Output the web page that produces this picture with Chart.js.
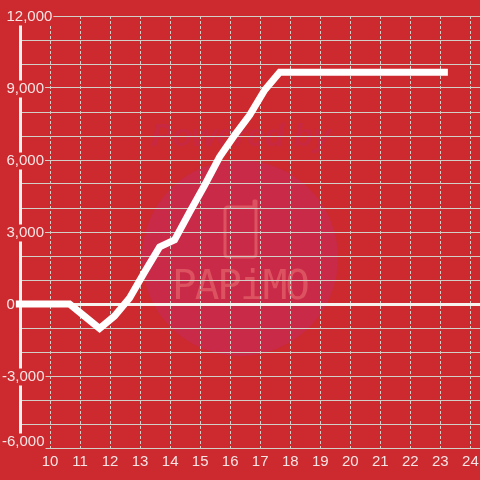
<!DOCTYPE html>
<html>
<head>
<meta charset="utf-8">
<style>
  html, body { margin: 0; padding: 0; background: #cc2a2e; }
  canvas { display: block; }
</style>
<script src="https://cdn.jsdelivr.net/npm/chart.js@4"></script>
</head>
<body>
<canvas id="myChart" width="480" height="480"></canvas>
<script>
// -------- Data --------
const hours = [8.65, 9.15, 9.65, 10.15, 10.65, 11.15, 11.65, 12.15, 12.65, 13.15, 13.65, 14.15, 14.65,
  15.15, 15.65, 16.15, 16.65, 17.15, 17.65, 18.65, 19.65, 20.65, 21.65, 22.65, 23.25];
const balance = [0, 0, 0, 0, 0, -510, -1020, -500, 250, 1330, 2380, 2670, 3830,
  4950, 6130, 7040, 7875, 8920, 9660, 9660, 9660, 9660, 9660, 9660, 9660];
const yLabelled = [12000, 9000, 6000, 3000, 0, -3000, -6000];

const RED = '#cc2a2e';
const TEXT = '#f6e4e4';
const GRID = '#d2cfc9';

// -------- Watermark behind the plot --------
const watermark = {
  id: 'watermark',
  beforeDraw(chart) {
    const c = chart.ctx;
    c.save();
    c.fillStyle = RED;
    c.fillRect(0, 0, chart.width, chart.height);

    c.fillStyle = '#c82a48';
    c.beginPath();
    c.arc(240, 258, 98, 0, Math.PI * 2);
    c.fill();

    c.fillStyle = 'rgba(200,40,72,0.75)';
    c.font = "italic bold 32px 'Liberation Sans'";
    c.textAlign = 'center';
    c.textBaseline = 'middle';
    c.fillText('Powered by', 241, 137);

    c.strokeStyle = '#dc5260';
    c.lineWidth = 3;
    c.lineJoin = 'round';
    c.beginPath();
    c.moveTo(228, 207);
    c.lineTo(254, 207);
    c.lineTo(254, 201);
    c.lineTo(256, 201);
    c.lineTo(256, 254);
    c.quadraticCurveTo(256, 257, 253, 257);
    c.lineTo(228, 257);
    c.quadraticCurveTo(225, 257, 225, 254);
    c.lineTo(225, 210);
    c.quadraticCurveTo(225, 207, 228, 207);
    c.stroke();

    c.fillStyle = '#dc5260';
    c.font = "41px 'DejaVu Sans Mono'";
    c.letterSpacing = '-2px';
    c.fillText('PAPiMO', 240, 288);
    c.restore();
  }
};

// y labels sit a little off their grid lines: minus signs hang left, the last one is lifted
function nudgeLabels(scale) {
  const orig = scale.getLabelItems.bind(scale);
  scale.getLabelItems = area => {
    const items = orig(area);
    items.forEach(item => {
      if (item.moved) return;
      item.moved = true;
      const t = item.options.translation;
      if (String(item.label).startsWith('-')) t[0] -= 4.5;
      t[1] += item.label === '-6,000' ? -6 : 1;
    });
    return items;
  };
}

// -------- Chart --------
new Chart(document.getElementById('myChart').getContext('2d'), {
  type: 'line',
  plugins: [watermark],
  data: {
    datasets: [{
      data: hours.map((h, i) => ({ x: h, y: balance[i] })),
      borderColor: '#ffffff',
      borderWidth: 7,
      pointRadius: 0,
      tension: 0,
      clip: false
    }]
  },
  options: {
    responsive: false,
    animation: false,
    layout: { padding: { left: 20, top: 16, right: 0, bottom: 0 } },
    plugins: { legend: { display: false }, tooltip: { enabled: false } },
    scales: {
      x: {
        type: 'linear',
        min: 9,
        max: 24.32,
        afterFit: s => { s.height = 32; s.paddingLeft = 0; s.paddingRight = 0; },
        afterBuildTicks: s => { s.ticks = s.ticks.filter(t => t.value >= 10); },
        grid: { color: GRID, lineWidth: 1, drawTicks: false },
        border: { display: false, dash: [3, 2] },
        ticks: {
          stepSize: 1,
          includeBounds: false,
          autoSkip: false,
          maxRotation: 0,
          padding: 6,
          color: TEXT,
          z: 2,
          font: { family: "'Liberation Sans'", size: 15, lineHeight: 1 }
        }
      },
      y: {
        min: -6000,
        max: 12000,
        afterFit: s => { s.width = 0; },
        afterUpdate: nudgeLabels,
        grid: {
          color: c => (c.tick.value === 0 ? '#f6f2ee' : GRID),
          lineWidth: c => (c.tick.value === 0 ? 3 : 1),
          drawTicks: false
        },
        border: { color: '#f4f2ee', width: 3 },
        ticks: {
          stepSize: 1000,
          autoSkip: false,
          mirror: true,
          padding: -13.5,
          color: TEXT,
          z: 1,
          showLabelBackdrop: true,
          backdropColor: RED,
          backdropPadding: { left: 1, right: 1, top: 1, bottom: 1 },
          font: { family: "'Liberation Sans'", size: 15, lineHeight: 1 },
          callback: v => (yLabelled.includes(v) ? v.toLocaleString('en-US') : '')
        }
      }
    }
  }
});
</script>
</body>
</html>
